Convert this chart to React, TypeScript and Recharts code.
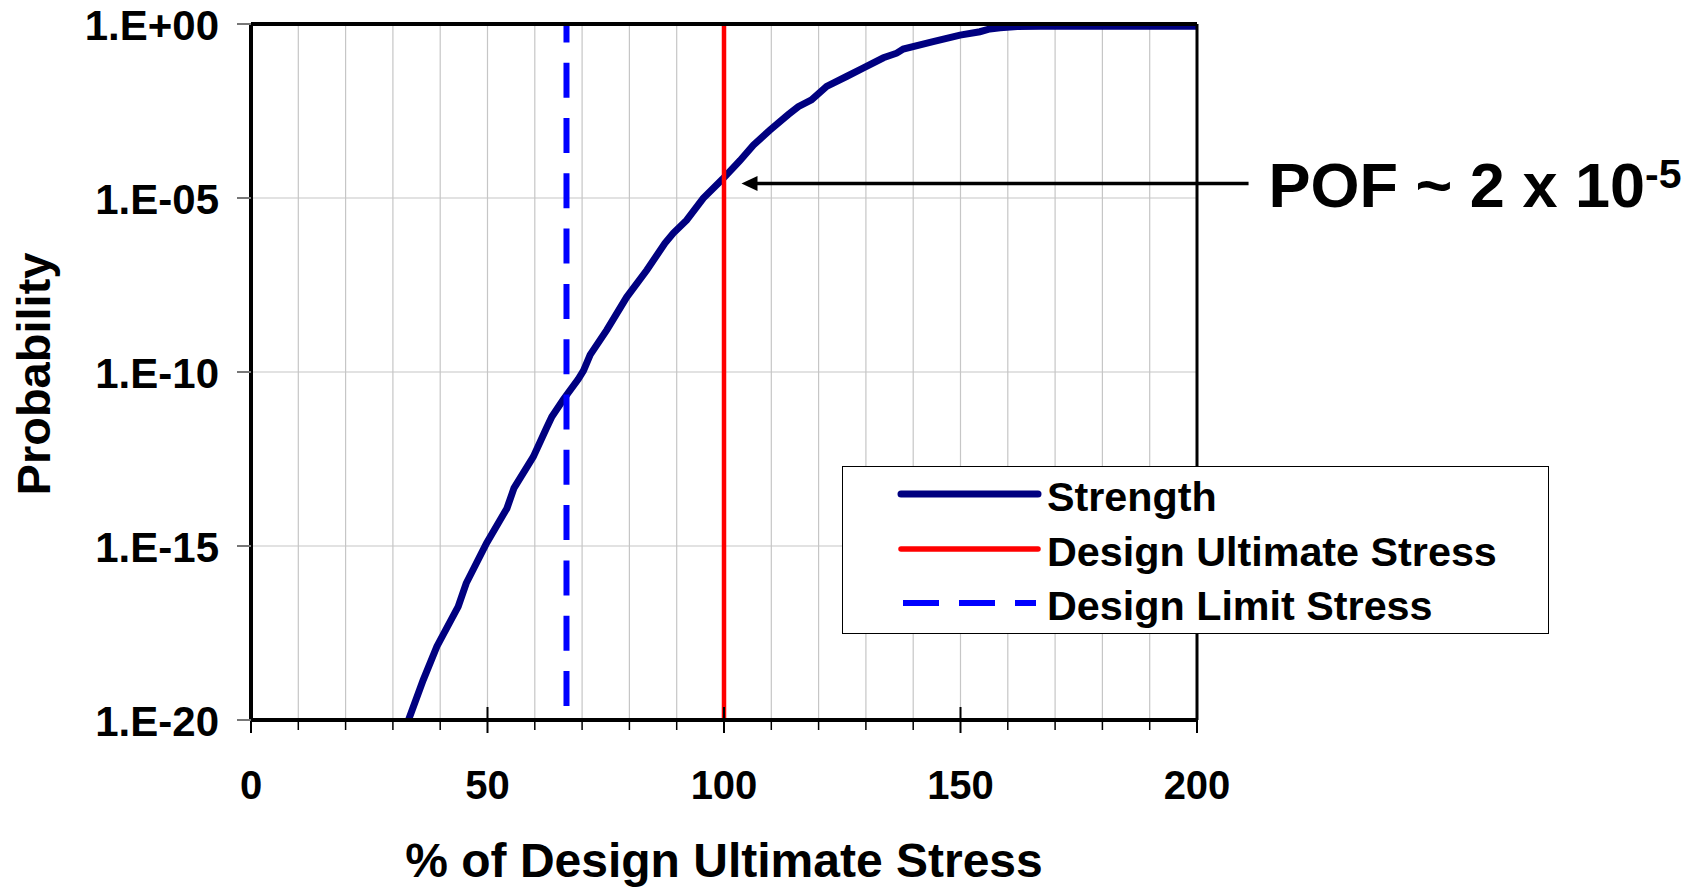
import React from 'react';
import { LineChart, Line, XAxis, YAxis, CartesianGrid, ReferenceLine, Legend } from 'recharts';

const FONT = '"Liberation Sans", Arial, Helvetica, sans-serif';

// % of design ultimate stress
const stressPct = [
  33.3, 36.4, 39.3, 43.8, 45.5, 49.8, 54.1, 55.6, 59.7, 62.5, 63.6, 66.0, 69.2, 70.3, 71.7,
  75.2, 79.4, 83.7, 87.5, 89.3, 92.1, 95.6, 99.7, 103.4, 106.2, 109.7, 113.6, 115.7, 118.5,
  121.7, 125.9, 129.5, 133.7, 136.5, 137.9, 144.2, 149.9, 154.1, 156.2, 158.4, 162, 167, 200,
];
// probability of failure (strength)
const probability = [
  1e-20, 1.4e-19, 1.3e-18, 1.8e-17, 8.5e-17, 1.2e-15, 1.2e-14, 4.6e-14, 3.7e-13, 2.5e-12, 5.2e-12,
  1.6e-11, 6.3e-11, 1.1e-10, 3.1e-10, 1.6e-9, 1.4e-8, 8.5e-8, 5.0e-7, 9.8e-7, 2.3e-6, 9.8e-6,
  3.5e-5, 1.2e-4, 3.3e-4, 8.9e-4, 2.5e-3, 4.2e-3, 6.6e-3, 1.6e-2, 3.1e-2, 5.5e-2, 0.107, 0.145,
  0.19, 0.31, 0.48, 0.6, 0.72, 0.78, 0.85, 0.86, 0.86,
];
const xTicks = [0, 10, 20, 30, 40, 50, 60, 70, 80, 90, 100, 110, 120, 130, 140, 150, 160, 170, 180, 190, 200];
const xLabelTicks = [0, 50, 100, 150, 200];
const yTicks = [1e-20, 1e-15, 1e-10, 1e-5, 1];
const designUltimate = 100;
const designLimit = 66.7;
const pofValue = 2.6e-5;
const pofArrowX = [103.7, 210.9];
const seriesNames = ['Strength', 'Design Ultimate Stress', 'Design Limit Stress'];
const xTitle = '% of Design Ultimate Stress';
const yTitle = 'Probability';

const data = stressPct.map((x, i) => ({ x, p: probability[i] }));

const fmtY = (v: number) => {
  const e = Math.round(Math.log10(v));
  const sign = e < 0 ? '-' : '+';
  return `1.E${sign}${String(Math.abs(e)).padStart(2, '0')}`;
};

const XTick = (props: any) => {
  const { x, y, payload } = props;
  const v = payload.value;
  const major = xLabelTicks.includes(v);
  return (
    <g>
      <line x1={x} x2={x} y1={major ? y - 13 : y} y2={major ? y + 13 : y + 10} stroke="#000" strokeWidth={major ? 2 : 1.5} />
      {major && (
        <text x={x} y={y + 79} textAnchor="middle" fontSize={40} fontWeight="bold" fontFamily={FONT} fill="#000">
          {v}
        </text>
      )}
    </g>
  );
};

const YTick = (props: any) => {
  const { x, y, payload } = props;
  return (
    <g>
      <line x1={x - 14} x2={x} y1={y} y2={y} stroke="#777" strokeWidth={2} />
      <text x={x - 32} y={y + 16} textAnchor="end" fontSize={42} fontWeight="bold" fontFamily={FONT} fill="#000">
        {fmtY(payload.value)}
      </text>
    </g>
  );
};

const XTitle = (props: any) => {
  const vb = props.viewBox || {};
  const cx = (vb.x || 0) + (vb.width || 0) / 2;
  return (
    <text x={cx} y={(vb.y || 0) + 157} textAnchor="middle" fontSize={48} fontWeight="bold" fontFamily={FONT} fill="#000">
      {xTitle}
    </text>
  );
};

const YTitle = (props: any) => {
  const vb = props.viewBox || {};
  const cy = (vb.y || 0) + (vb.height || 0) / 2 + 2;
  return (
    <text
      x={0}
      y={0}
      transform={`translate(50, ${cy}) rotate(-90)`}
      textAnchor="middle"
      fontSize={47}
      fontWeight="bold"
      fontFamily={FONT}
      fill="#000"
    >
      {yTitle}
    </text>
  );
};

const ArrowShape = (props: any) => {
  const { x1, x2, y1 } = props;
  const left = Math.min(x1, x2);
  const right = Math.max(x1, x2);
  const y = y1;
  return (
    <g>
      <line x1={left + 14} x2={right} y1={y} y2={y} stroke="#000" strokeWidth={3.5} />
      <polygon points={`${left},${y} ${left + 16},${y - 7.5} ${left + 16},${y + 7.5}`} fill="#000" />
      <text x={right + 20} y={y + 23} fontSize={63} fontWeight="bold" fontFamily={FONT} fill="#000">
        <tspan>POF ~ 2 x 10</tspan>
        <tspan fontSize={41} dy={-19}>-5</tspan>
      </text>
    </g>
  );
};

const LegendBox = () => (
  <div style={{ width: 707, height: 168, boxSizing: 'border-box', border: '1.5px solid #000', background: '#fff' }}>
    <svg width={704} height={165} style={{ display: 'block' }}>
      <line x1={58} x2={195} y1={27} y2={27} stroke="#000080" strokeWidth={7} strokeLinecap="round" />
      <line x1={58} x2={195} y1={82} y2={82} stroke="#FF0000" strokeWidth={5.5} strokeLinecap="round" />
      <line x1={60} x2={193} y1={136} y2={136} stroke="#0000FF" strokeWidth={6} strokeDasharray="36 20" />
      {seriesNames.map((n, i) => (
        <text key={n} x={204} y={44 + i * 54.5} fontSize={41.3} fontWeight="bold" fontFamily={FONT} fill="#000">
          {n}
        </text>
      ))}
    </svg>
  </div>
);

export default function App() {
  return (
    <div style={{ position: 'absolute', left: 0, top: 0, width: 1702, height: 887, background: '#fff' }}>
      <LineChart width={1702} height={887} data={data} margin={{ top: 24, right: 505, bottom: 0, left: 0 }}>
        <CartesianGrid stroke="#c6c6c6" strokeWidth={1.2} />
        <XAxis
          dataKey="x"
          type="number"
          domain={[0, 200]}
          ticks={xTicks}
          interval={0}
          height={167}
          tickSize={0}
          tickMargin={0}
          tickLine={false}
          tick={XTick}
          axisLine={{ stroke: '#000', strokeWidth: 4 }}
          label={<XTitle />}
        />
        <YAxis
          type="number"
          scale="log"
          domain={[1e-20, 1]}
          allowDataOverflow
          ticks={yTicks}
          interval={0}
          width={251}
          tickSize={0}
          tickMargin={0}
          tickLine={false}
          tick={YTick}
          axisLine={{ stroke: '#000', strokeWidth: 4 }}
          label={<YTitle />}
        />
        <Line
          dataKey="p"
          name={seriesNames[0]}
          stroke="#000080"
          strokeWidth={7}
          dot={false}
          activeDot={false}
          isAnimationActive={false}
          type="linear"
        />
        <ReferenceLine x={designUltimate} stroke="#FF0000" strokeWidth={4.5} />
        <ReferenceLine x={designLimit} stroke="#0000FF" strokeWidth={6} strokeDasharray="35 20.3" strokeDashoffset={41.3} />
        <ReferenceLine y={1} stroke="#000" strokeWidth={4} />
        <ReferenceLine x={200} stroke="#000" strokeWidth={3} />
        <ReferenceLine
          segment={[{ x: pofArrowX[0], y: pofValue }, { x: pofArrowX[1], y: pofValue }]}
          ifOverflow="visible"
          shape={ArrowShape}
        />
        <Legend
          layout="vertical"
          align="center"
          verticalAlign="middle"
          content={LegendBox}
          wrapperStyle={{ left: 842, top: 466, width: 707, height: 168 }}
        />
      </LineChart>
    </div>
  );
}
